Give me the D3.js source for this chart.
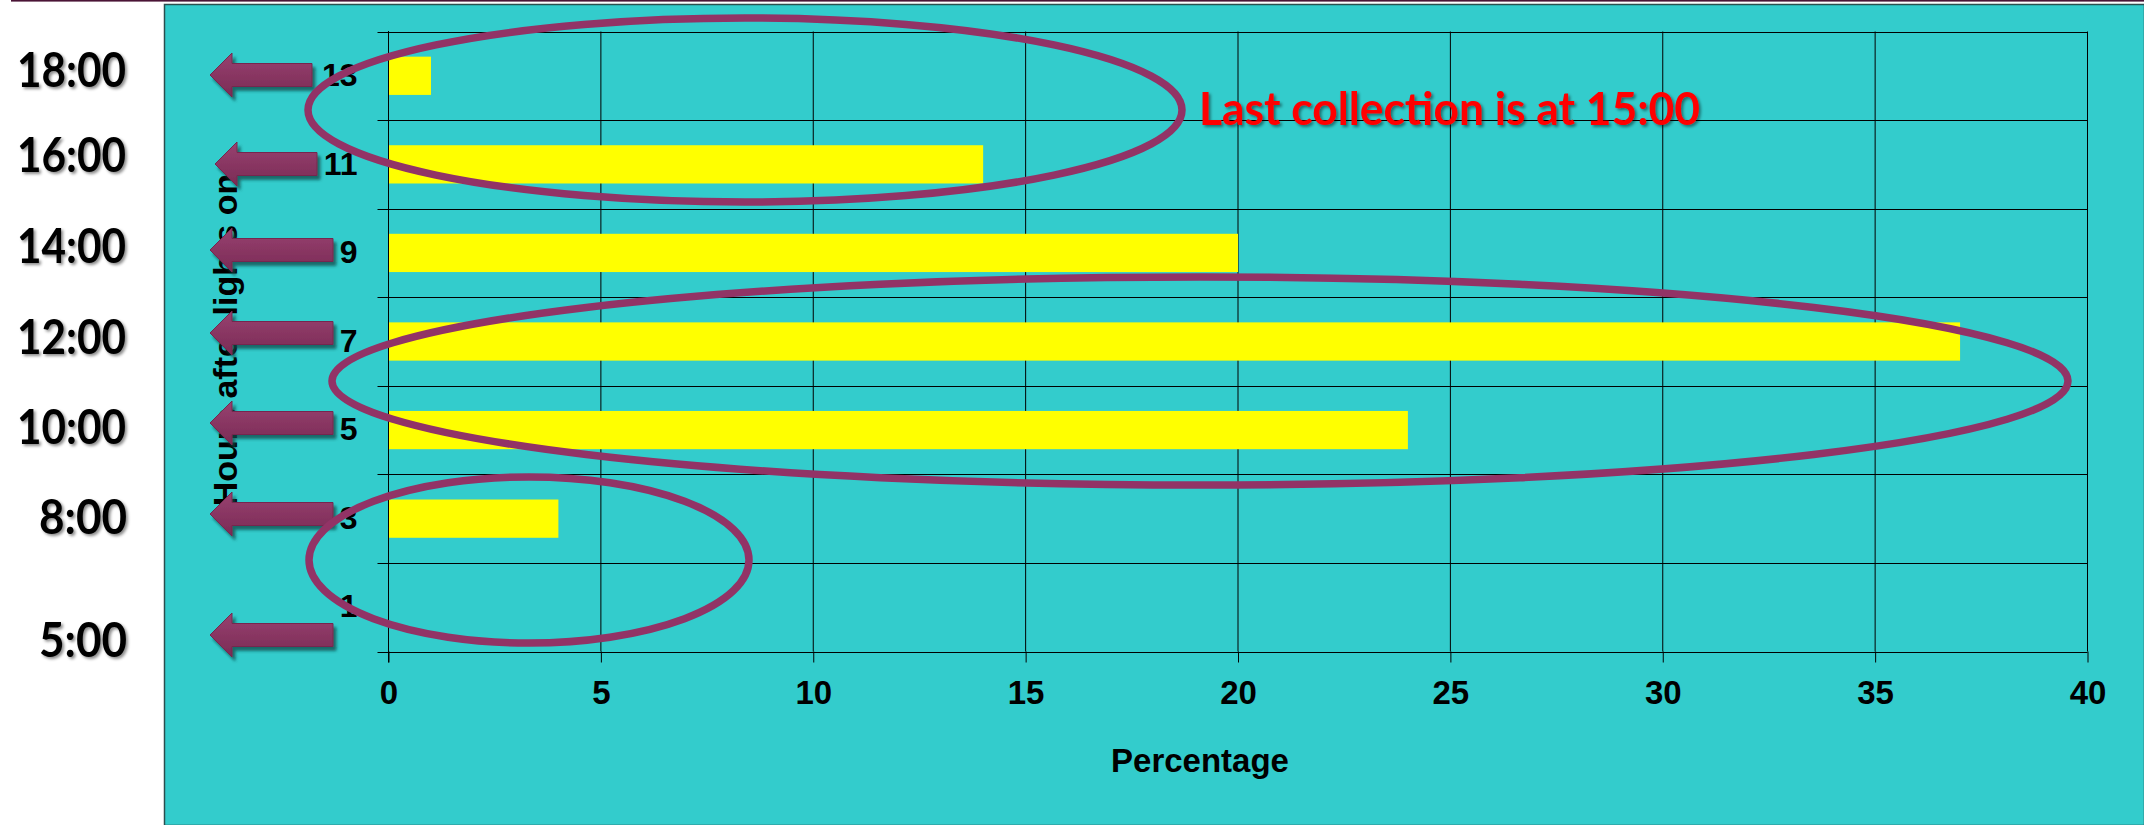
<!DOCTYPE html>
<html>
<head>
<meta charset="utf-8">
<script src="https://cdn.jsdelivr.net/npm/d3@7/dist/d3.min.js"></script>
<style>
  html, body { margin: 0; padding: 0; background: #ffffff; }
  svg { display: block; }
</style>
</head>
<body>
<svg id="chart" width="2144" height="825"></svg>
<script>
// ---------------- data ----------------
const categories = ["1", "3", "5", "7", "9", "11", "13"];   // hours after lights on
const percentages = [0, 4, 24, 37, 20, 14, 1];             // percentage
const xTickValues = [0, 5, 10, 15, 20, 25, 30, 35, 40];
const timeLabels = ["18:00", "16:00", "14:00", "12:00", "10:00", "8:00", "5:00"];
const noteText = "Last collection is at 15:00";
const xTitle = "Percentage";
const yTitle = "Hours after lights on";

// ---------------- layout (annotations) ----------------
const timeLabelY = [70, 155, 246, 337, 427, 517, 640];
const arrowTipX = [210, 215, 210, 210, 210, 210, 210];
const arrowEndX = [312, 317, 333, 333, 333, 333, 333];
const arrowY = [75, 164, 250, 333, 423, 514, 635];
const ellipseCX = [745, 1200, 529];
const ellipseCY = [110, 381, 560];
const ellipseRX = [437, 868, 220];
const ellipseRY = [92, 104, 83];

const svg = d3.select("#chart");
const W = 2144, H = 825;

// defs
const defs = svg.append("defs");
const grad = defs.append("linearGradient").attr("id", "arrowGrad")
  .attr("x1", 0).attr("y1", 0).attr("x2", 0).attr("y2", 1);
grad.append("stop").attr("offset", "0%").attr("stop-color", "#984170");
grad.append("stop").attr("offset", "100%").attr("stop-color", "#7A2B55");

const sh = defs.append("filter").attr("id", "arrowShadow")
  .attr("x", "-20%").attr("y", "-40%").attr("width", "140%").attr("height", "180%");
sh.append("feDropShadow").attr("dx", 3).attr("dy", 4).attr("stdDeviation", 1.8)
  .attr("flood-color", "#164c4c").attr("flood-opacity", 0.75);

const tsh = defs.append("filter").attr("id", "textShadow")
  .attr("x", "-10%").attr("y", "-30%").attr("width", "120%").attr("height", "160%");
tsh.append("feDropShadow").attr("dx", 2).attr("dy", 2).attr("stdDeviation", 1.5)
  .attr("flood-color", "#000").attr("flood-opacity", 0.45);

// top slide rule
svg.append("rect").attr("x", 11).attr("y", 0).attr("width", W - 11).attr("height", 1.6)
  .attr("fill", "#4A1436");

// teal panel
svg.append("rect").attr("x", 164.5).attr("y", 4.5).attr("width", W - 164).attr("height", H - 4)
  .attr("fill", "#33CCCC").attr("stroke", "#2b4f4f").attr("stroke-width", 1.5);

// scales
const plotL = 388.5, plotR = 2087.5, plotT = 31.5, plotB = 651.5;
const x = d3.scaleLinear().domain([0, 40]).range([plotL, plotR]);
const y = d3.scaleBand().domain(categories.slice().reverse()).range([plotT, plotB]).padding(0);
const barFrac = 0.432;

// y axis title (behind arrows)
svg.append("text")
  .attr("transform", `translate(237,340) rotate(-90)`)
  .attr("text-anchor", "middle")
  .attr("font-family", "'Liberation Sans', Arial, sans-serif")
  .attr("font-weight", "bold").attr("font-size", 34).attr("fill", "#000")
  .text(yTitle);

// gridlines
const grid = svg.append("g").attr("stroke", "#000").attr("stroke-width", 1);
const boundaries = categories.map((c) => y(c)).concat([plotB]);
grid.selectAll("line.h").data(boundaries).join("line").attr("class", "h")
  .attr("x1", plotL - 11).attr("x2", plotR)
  .attr("y1", d => Math.round(d) + 0.5).attr("y2", d => Math.round(d) + 0.5);
grid.selectAll("line.v").data(xTickValues).join("line").attr("class", "v")
  .attr("x1", d => x(d)).attr("x2", d => x(d))
  .attr("y1", plotT).attr("y2", plotB);

// bars
svg.append("g").selectAll("rect").data(categories).join("rect")
  .attr("x", x(0))
  .attr("y", c => y(c) + y.bandwidth() * (1 - barFrac) / 2)
  .attr("width", (c, i) => x(percentages[i]) - x(0))
  .attr("height", y.bandwidth() * barFrac)
  .attr("fill", "#FFFF00");

// x axis
const xAxis = svg.append("g").attr("transform", `translate(0,${plotB})`)
  .call(d3.axisBottom(x).tickValues(xTickValues).tickSize(11).tickPadding(18).tickFormat(d3.format("d")));
xAxis.select(".domain").remove();
xAxis.selectAll("line").attr("stroke", "#000");
xAxis.selectAll("text").attr("font-family", "'Liberation Sans', Arial, sans-serif")
  .attr("font-weight", "bold").attr("font-size", 33).attr("fill", "#000");

// y axis labels
const yAxis = svg.append("g").attr("transform", `translate(${plotL},0)`)
  .call(d3.axisLeft(y).tickSize(0).tickPadding(31));
yAxis.select(".domain").attr("stroke", "#000").attr("d", `M0,${plotT - 0.5}V${plotB + 11}`);
yAxis.selectAll("text").attr("font-family", "'Liberation Sans', Arial, sans-serif")
  .attr("font-weight", "bold").attr("font-size", 32).attr("fill", "#000");

// x title
svg.append("text").attr("x", 1200).attr("y", 772).attr("text-anchor", "middle")
  .attr("font-family", "'Liberation Sans', Arial, sans-serif")
  .attr("font-weight", "bold").attr("font-size", 33).attr("fill", "#000")
  .text(xTitle);

// time labels
svg.append("g").selectAll("text").data(timeLabels).join("text")
  .attr("x", (d, i) => i >= 5 ? 127 : 126)
  .attr("y", (d, i) => timeLabelY[i] + 17)
  .attr("text-anchor", "end")
  .attr("font-family", "'Gill Sans MT', 'Gill Sans', Lato, sans-serif")
  .attr("font-weight", "bold").attr("font-size", 47).attr("fill", "#000")
  .attr("textLength", d => d.length === 5 ? 109 : 88)
  .attr("lengthAdjust", "spacingAndGlyphs")
  .attr("filter", "url(#textShadow)")
  .text(d => d);

// arrows
const headLen = 22, headH = 22, shaftH = 11.5;
svg.append("g").selectAll("path").data(arrowY).join("path")
  .attr("d", (cy, i) => {
    const t = arrowTipX[i], e = arrowEndX[i], b = t + headLen;
    return `M${t},${cy} L${b},${cy - headH} L${b},${cy - shaftH} L${e},${cy - shaftH} L${e},${cy + shaftH} L${b},${cy + shaftH} L${b},${cy + headH} Z`;
  })
  .attr("fill", "url(#arrowGrad)").attr("stroke", "#75284f").attr("stroke-width", 1)
  .attr("filter", "url(#arrowShadow)");

// ellipses
svg.append("g").selectAll("ellipse").data(ellipseCX).join("ellipse")
  .attr("cx", d => d).attr("cy", (d, i) => ellipseCY[i])
  .attr("rx", (d, i) => ellipseRX[i]).attr("ry", (d, i) => ellipseRY[i])
  .attr("fill", "none").attr("stroke", "#923366").attr("stroke-width", 7.5);

// note
svg.append("text").attr("x", 1199).attr("y", 125)
  .attr("font-family", "'Gill Sans MT', 'Gill Sans', Lato, sans-serif")
  .attr("font-weight", "bold").attr("font-size", 45).attr("fill", "#FF0000")
  .attr("textLength", 501).attr("lengthAdjust", "spacingAndGlyphs")
  .attr("filter", "url(#textShadow)")
  .text(noteText);
</script>
</body>
</html>
